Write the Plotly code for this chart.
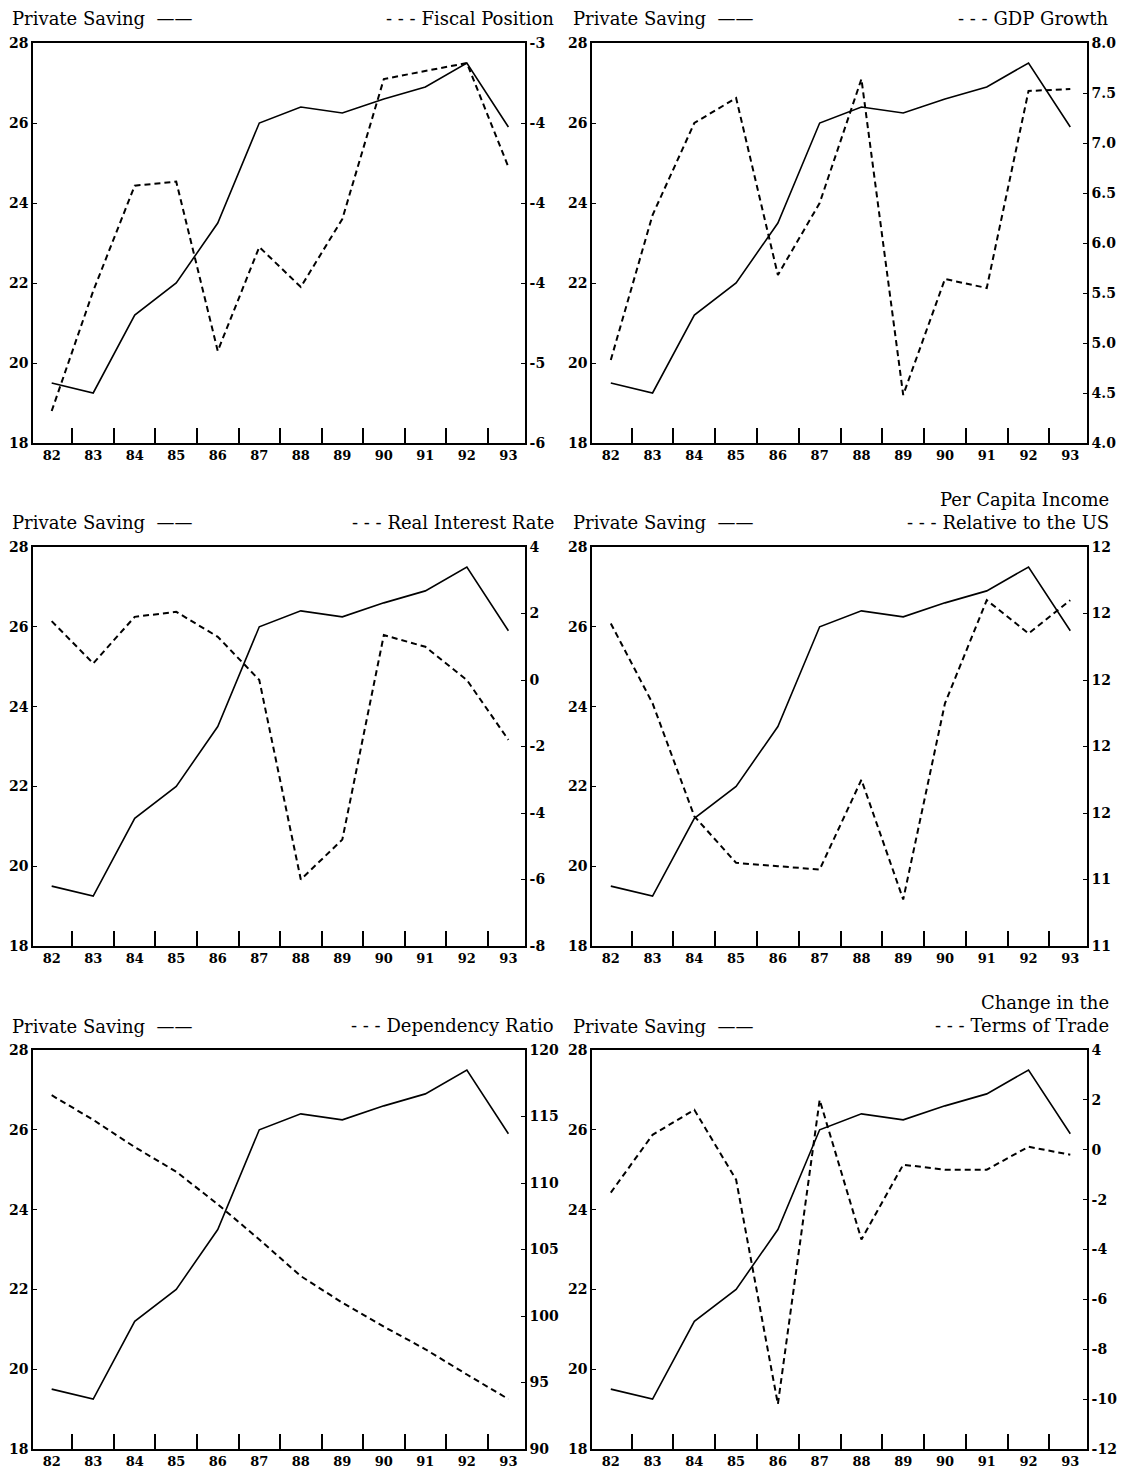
import plotly.graph_objects as go

# ---------------- data ----------------
years = list(range(82, 94))
year_labels = [str(y) for y in years]

private_saving = [19.5, 19.25, 21.2, 22.0, 23.5, 26.0, 26.4, 26.25, 26.6, 26.9, 27.5, 25.9]

fiscal_position = [-5.76, -4.86, -4.07, -4.04, -5.31, -4.53, -4.83, -4.32, -3.27, -3.21, -3.15, -3.93]
gdp_growth = [4.83, 6.28, 7.2, 7.45, 5.68, 6.4, 7.64, 4.48, 5.64, 5.55, 7.52, 7.54]
real_interest_rate = [1.77, 0.5, 1.9, 2.05, 1.3, 0.0, -6.0, -4.8, 1.35, 1.0, 0.0, -1.8]
per_capita_income = [12.17, 11.93, 11.59, 11.45, 11.44, 11.43, 11.70, 11.34, 11.93, 12.24, 12.14, 12.24]
dependency_ratio = [116.6, 114.75, 112.7, 110.85, 108.4, 105.75, 103.0, 101.0, 99.2, 97.5, 95.6, 93.75]
terms_of_trade = [-1.72, 0.6, 1.6, -1.2, -10.2, 2.0, -3.6, -0.6, -0.8, -0.8, 0.12, -0.2]

left_tickvals = [18, 20, 22, 24, 26, 28]
left_ticktext = ["18", "20", "22", "24", "26", "28"]

fiscal_tickvals = [-6, -5.4, -4.8, -4.2, -3.6, -3.0]
fiscal_ticktext = ["-6", "-5", "-4", "-4", "-4", "-3"]
gdp_tickvals = [4.0, 4.5, 5.0, 5.5, 6.0, 6.5, 7.0, 7.5, 8.0]
gdp_ticktext = ["4.0", "4.5", "5.0", "5.5", "6.0", "6.5", "7.0", "7.5", "8.0"]
rate_tickvals = [-8, -6, -4, -2, 0, 2, 4]
rate_ticktext = ["-8", "-6", "-4", "-2", "0", "2", "4"]
income_tickvals = [11.2, 11.4, 11.6, 11.8, 12.0, 12.2, 12.4]
income_ticktext = ["11", "11", "12", "12", "12", "12", "12"]
dep_tickvals = [90, 95, 100, 105, 110, 115, 120]
dep_ticktext = ["90", "95", "100", "105", "110", "115", "120"]
tot_tickvals = [-12, -10, -8, -6, -4, -2, 0, 2, 4]
tot_ticktext = ["-12", "-10", "-8", "-6", "-4", "-2", "0", "2", "4"]

panels = [
    dict(series=fiscal_position, rng=[-6, -3], tv=fiscal_tickvals, tt=fiscal_ticktext,
         title="- - - Fiscal Position"),
    dict(series=gdp_growth, rng=[4, 8], tv=gdp_tickvals, tt=gdp_ticktext,
         title="- - - GDP Growth"),
    dict(series=real_interest_rate, rng=[-8, 4], tv=rate_tickvals, tt=rate_ticktext,
         title="- - - Real Interest Rate"),
    dict(series=per_capita_income, rng=[11.2, 12.4], tv=income_tickvals, tt=income_ticktext,
         title="Per Capita Income<br>- - - Relative to the US"),
    dict(series=dependency_ratio, rng=[90, 120], tv=dep_tickvals, tt=dep_ticktext,
         title="- - - Dependency Ratio"),
    dict(series=terms_of_trade, rng=[-12, 4], tv=tot_tickvals, tt=tot_ticktext,
         title="Change in the<br>- - - Terms of Trade"),
]

# ---------------- layout geometry ----------------
# page coordinates; the browser adds an 8px body margin, so shift by OFF
OFF = 8
W, H = 1126 - 2 * OFF, 1480 - 2 * OFF
col_x = [(33, 525), (592, 1087)]
row_y = [(43, 443), (547, 946), (1050, 1449)]
title_right_x = [556, 1111]
title_left_x = [10, 571]

FONT = "DejaVu Serif"
tick_font = dict(family=FONT, size=14, color="black", weight="bold")
xtick_font = dict(family=FONT, size=13, color="black", weight="bold")
title_font = dict(family=FONT, size=18, color="black")


def px(x):
    return (x - OFF) / W


def py(y):
    return 1 - (y - OFF) / H


fig = go.Figure()
layout = dict(
    width=W, height=H, paper_bgcolor="white", plot_bgcolor="white",
    margin=dict(l=0, r=0, t=0, b=0), showlegend=False, annotations=[],
)

for i, p in enumerate(panels):
    r, c = divmod(i, 2)
    x0, x1 = col_x[c]
    y0, y1 = row_y[r]
    n = i + 1
    xa = f"x{n}"
    ya_l = f"y{2 * i + 1}"
    ya_r = f"y{2 * i + 2}"
    xkey = "xaxis" if n == 1 else f"xaxis{n}"
    ylkey = "yaxis" if 2 * i + 1 == 1 else f"yaxis{2 * i + 1}"
    yrkey = f"yaxis{2 * i + 2}"

    layout[xkey] = dict(
        domain=[px(x0), px(x1)], anchor=ya_l, range=[81.55, 93.4], automargin=False,
        tickmode="array", tickvals=years, ticktext=year_labels, ticks="",
        showline=True, linecolor="black", linewidth=1.6, mirror=True,
        showgrid=False, zeroline=False, tickfont=xtick_font, ticklabelstandoff=0,
        minor=dict(tickmode="array", tickvals=[y + 0.5 for y in years[:-1]],
                   ticks="inside", ticklen=15, tickwidth=1.5, tickcolor="black",
                   showgrid=False),
    )
    layout[ylkey] = dict(
        domain=[py(y1), py(y0)], anchor=xa, range=[18, 28], automargin=False,
        tickmode="array", tickvals=left_tickvals, ticktext=left_ticktext,
        ticks="inside", ticklen=4, tickwidth=1.3, tickcolor="black",
        showline=True, linecolor="black", linewidth=1.6, mirror=True,
        showgrid=False, zeroline=False, tickfont=tick_font,
    )
    layout[yrkey] = dict(
        overlaying=ya_l, anchor=xa, side="right", range=p["rng"], automargin=False,
        tickmode="array", tickvals=p["tv"], ticktext=p["tt"],
        ticks="inside", ticklen=4, tickwidth=1.3, tickcolor="black",
        showline=True, linecolor="black", linewidth=1.6,
        showgrid=False, zeroline=False, tickfont=tick_font,
    )

    fig.add_trace(go.Scatter(x=years, y=private_saving, mode="lines",
                             line=dict(color="black", width=1.6),
                             xaxis=xa, yaxis=ya_l))
    fig.add_trace(go.Scatter(x=years, y=p["series"], mode="lines",
                             line=dict(color="black", width=2, dash="6px,4px"),
                             xaxis=xa, yaxis=ya_r))

    ty = y0 - 24
    layout["annotations"].append(dict(
        text="Private Saving  ——", x=px(title_left_x[c]), y=py(ty),
        xref="paper", yref="paper", xanchor="left", yanchor="middle",
        showarrow=False, font=title_font))
    layout["annotations"].append(dict(
        text=p["title"], x=px(title_right_x[c]), y=py(ty + 12),
        xref="paper", yref="paper", xanchor="right", yanchor="bottom", align="right",
        showarrow=False, font=title_font))

fig.update_layout(**layout)
fig.write_html("out.html")
